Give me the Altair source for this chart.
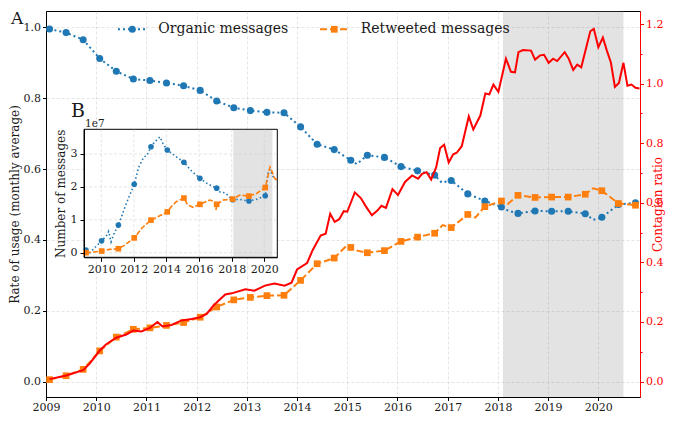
import altair as alt
import pandas as pd

FONT = "DejaVu Serif"
BLUE = "#1f77b4"
ORANGE = "#ff7f0e"
RED = "#ff0000"
TXT = "#1a1a1a"

# ---------------- main panel (A) ----------------
mark_years = [2009.07, 2009.40, 2009.74, 2010.07, 2010.40, 2010.74, 2011.07, 2011.40, 2011.74,
              2012.07, 2012.40, 2012.74, 2013.07, 2013.40, 2013.74, 2014.07, 2014.40, 2014.74,
              2015.07, 2015.40, 2015.74, 2016.07, 2016.40, 2016.74, 2017.07, 2017.40, 2017.74,
              2018.07, 2018.40, 2018.74, 2019.07, 2019.40, 2019.74, 2020.07, 2020.40, 2020.74]
organic_vals = [0.995, 0.985, 0.965, 0.912, 0.876, 0.854, 0.850, 0.843, 0.835,
                0.822, 0.792, 0.773, 0.765, 0.760, 0.759, 0.719, 0.670, 0.655,
                0.625, 0.639, 0.633, 0.607, 0.595, 0.583, 0.568, 0.530, 0.510,
                0.493, 0.475, 0.482, 0.481, 0.481, 0.474, 0.464, 0.500, 0.505]
retweet_vals = [0.006, 0.017, 0.035, 0.087, 0.126, 0.148, 0.152, 0.159, 0.167,
                0.182, 0.211, 0.231, 0.238, 0.243, 0.244, 0.286, 0.333, 0.349,
                0.379, 0.364, 0.370, 0.396, 0.408, 0.419, 0.435, 0.472, 0.494,
                0.510, 0.526, 0.520, 0.521, 0.521, 0.529, 0.539, 0.503, 0.498]
organic_extra_years = [2015.19, 2016.88, 2018.20, 2019.90]
organic_extra_vals = [0.614, 0.562, 0.483, 0.457]
retweet_extra_years = [2015.00, 2015.20, 2016.90, 2017.55, 2018.20, 2019.90]
retweet_extra_vals = [0.386, 0.370, 0.442, 0.463, 0.502, 0.546]

contagion_years = [2009.07, 2009.40, 2009.74, 2009.87, 2010.07, 2010.20, 2010.40, 2010.60, 2010.74, 2010.90,
                   2011.07, 2011.22, 2011.32, 2011.50, 2011.70, 2011.90, 2012.07, 2012.20, 2012.34, 2012.57,
                   2012.70, 2012.97, 2013.15, 2013.36, 2013.55, 2013.75, 2013.89, 2014.00, 2014.20, 2014.31,
                   2014.47, 2014.57, 2014.66, 2014.75, 2014.84, 2014.93, 2015.00, 2015.15, 2015.27, 2015.37,
                   2015.49, 2015.60, 2015.68, 2015.77, 2015.90, 2016.01, 2016.15, 2016.29, 2016.41, 2016.49,
                   2016.58, 2016.67, 2016.77, 2016.85, 2016.93, 2017.02, 2017.11, 2017.18, 2017.28, 2017.42,
                   2017.51, 2017.65, 2017.75, 2017.83, 2017.91, 2018.01, 2018.16, 2018.26, 2018.34, 2018.41,
                   2018.50, 2018.66, 2018.74, 2018.84, 2018.92, 2019.01, 2019.10, 2019.18, 2019.33, 2019.41,
                   2019.50, 2019.58, 2019.66, 2019.84, 2019.91, 2020.00, 2020.09, 2020.17, 2020.25, 2020.33,
                   2020.41, 2020.50, 2020.58, 2020.66, 2020.74, 2020.82]
contagion_vals = [0.008, 0.020, 0.038, 0.060, 0.104, 0.125, 0.147, 0.158, 0.171, 0.168,
                  0.180, 0.200, 0.185, 0.190, 0.205, 0.210, 0.216, 0.227, 0.256, 0.292,
                  0.296, 0.310, 0.305, 0.322, 0.329, 0.322, 0.332, 0.376, 0.398, 0.441,
                  0.490, 0.496, 0.563, 0.536, 0.545, 0.572, 0.570, 0.635, 0.616, 0.588,
                  0.558, 0.574, 0.590, 0.583, 0.646, 0.626, 0.670, 0.692, 0.681, 0.697,
                  0.703, 0.678, 0.719, 0.784, 0.795, 0.735, 0.763, 0.768, 0.790, 0.890,
                  0.846, 0.893, 0.967, 0.964, 0.997, 0.973, 1.084, 1.040, 1.038, 1.106,
                  1.113, 1.111, 1.081, 1.095, 1.097, 1.070, 1.084, 1.076, 1.106, 1.084,
                  1.046, 1.064, 1.055, 1.176, 1.184, 1.122, 1.155, 1.111, 1.071, 0.989,
                  1.002, 1.070, 0.993, 0.997, 0.986, 0.984]

# ---------------- inset panel (B), units of 1e7 ----------------
inset_mark_years = [2009.06, 2010.02, 2011.05, 2012.02, 2013.05, 2014.05,
                    2015.07, 2016.05, 2017.08, 2018.06, 2019.06, 2020.06]
inset_organic_mark = [0.08, 0.36, 0.84, 2.08, 3.22, 3.12, 2.75, 2.26, 1.96, 1.61, 1.57, 1.73]
inset_retweet_mark = [0.00, 0.05, 0.12, 0.45, 0.99, 1.24, 1.66, 1.47, 1.47, 1.63, 1.72, 1.98]
inset_organic_extra_years = [2009.30, 2009.60, 2010.30, 2010.45, 2010.60, 2010.80, 2011.50, 2012.30,
                             2012.60, 2012.80, 2013.30, 2013.60, 2013.80, 2014.50, 2015.50, 2016.50,
                             2017.30, 2017.60, 2018.50, 2019.50, 2020.25, 2020.35, 2020.57, 2020.80]
inset_organic_extra = [0.00, 0.15, 0.50, 0.65, 0.33, 0.60, 1.45, 2.60,
                       2.90, 2.95, 3.38, 3.52, 3.30, 2.95, 2.50, 2.10,
                       1.84, 1.82, 1.62, 1.62, 2.50, 2.52, 2.28, 2.20]
inset_retweet_extra_years = [2009.50, 2010.50, 2011.50, 2012.50, 2013.50, 2014.30, 2014.60, 2015.30,
                             2015.64, 2016.66, 2016.95, 2017.04, 2017.48, 2018.50, 2019.53, 2020.35,
                             2020.45, 2020.63, 2020.80]
inset_retweet_extra = [0.02, 0.10, 0.25, 0.75, 1.10, 1.40, 1.55, 1.45,
                       1.38, 1.60, 1.55, 1.30, 1.60, 1.75, 1.80, 2.60,
                       2.50, 2.26, 2.20]

shade_period = [2018.1, 2020.5]
main_year_ticks = [2009 + 0.5 * i for i in range(24)]
left_ticks = [round(0.1 * i, 1) for i in range(11)]
right_ticks = [round(0.1 * i, 1) for i in range(13)]
inset_x_ticks = [2010, 2012, 2014, 2016, 2018, 2020]
inset_y_ticks = [0, 1, 2, 3]

# ---------------- layout ----------------
PAD = {"left": 38, "top": 3, "right": 37, "bottom": 18}
W, H = 594, 386
X_DOMAIN = [2009.0, 2020.83]
YL_DOMAIN = [-0.043, 1.046]
YR_DOMAIN = [-0.052, 1.244]
IX_DOMAIN = [2008.94, 2020.8]
IY_DOMAIN = [-0.14, 3.75]
IX_RANGE = [38, 231.3]
IY_RANGE = [246.3, 118.3]


def line_df(y1, v1, y2, v2):
    d = pd.DataFrame({"year": list(y1) + list(y2), "value": list(v1) + list(v2)})
    return d.sort_values("year").reset_index(drop=True)


org_df = line_df(mark_years, organic_vals, organic_extra_years, organic_extra_vals)
rt_df = line_df(mark_years, retweet_vals, retweet_extra_years, retweet_extra_vals)
org_m = pd.DataFrame({"year": mark_years, "value": organic_vals})
rt_m = pd.DataFrame({"year": mark_years, "value": retweet_vals})
red_df = pd.DataFrame({"year": contagion_years, "value": contagion_vals})

iorg_df = line_df(inset_mark_years, inset_organic_mark, inset_organic_extra_years, inset_organic_extra)
irt_df = line_df(inset_mark_years, inset_retweet_mark, inset_retweet_extra_years, inset_retweet_extra)
iorg_m = pd.DataFrame({"year": inset_mark_years, "value": inset_organic_mark})
irt_m = pd.DataFrame({"year": inset_mark_years, "value": inset_retweet_mark})

xs = alt.Scale(domain=X_DOMAIN, nice=False, zero=False)
yls = alt.Scale(domain=YL_DOMAIN, nice=False, zero=False)
yrs = alt.Scale(domain=YR_DOMAIN, nice=False, zero=False)
xis = alt.Scale(domain=IX_DOMAIN, range=IX_RANGE, nice=False, zero=False)
yis = alt.Scale(domain=IY_DOMAIN, range=IY_RANGE, nice=False, zero=False)

GRID = dict(grid=True, gridColor="#c4c4c4", gridDash=[3, 2], gridWidth=0.8, gridOpacity=0.55)
MAJOR02 = "abs(datum.value * 5 - round(datum.value * 5)) < 0.001"

x_axis = alt.Axis(
    values=main_year_ticks, orient="bottom", title=None, labelOverlap=False, labelFlush=False,
    labelExpr="datum.value % 1 == 0 ? format(datum.value, 'd') : ''",
    tickSize={"condition": {"test": "datum.value % 1 == 0", "value": 3.5}, "value": 2},
    domainColor="black", tickColor="black", labelColor=TXT, labelFontSize=11,
    labelPadding=1, **GRID)
yl_axis = alt.Axis(
    values=left_ticks, orient="left", title="Rate of usage (monthly average)",
    labelOverlap=False, labelFlush=False,
    labelExpr=MAJOR02 + " ? format(datum.value, '.1f') : ''",
    tickSize={"condition": {"test": MAJOR02, "value": 3.5}, "value": 2},
    domainColor="black", tickColor="black", labelColor=TXT, labelFontSize=11,
    titleFontSize=12, titleFontWeight="normal", titleColor=TXT, titlePadding=2, **GRID)
yr_axis = alt.Axis(
    values=right_ticks, orient="right", title="Contagion ratio", labelOverlap=False,
    labelFlush=False, grid=False,
    labelExpr=MAJOR02 + " ? format(datum.value, '.1f') : ''",
    tickSize={"condition": {"test": MAJOR02, "value": 3.5}, "value": 2},
    domainColor=RED, tickColor=RED, labelColor=RED, labelFontSize=11, labelPadding=2,
    titleFontSize=12, titleFontWeight="normal", titleColor=RED, titlePadding=2,
    titleAngle=270)

shade = alt.Chart(pd.DataFrame({"x0": [shade_period[0]], "x1": [shade_period[1]]})).mark_rect(
    color="#808080", opacity=0.22).encode(x=alt.X("x0:Q", scale=xs, axis=x_axis), x2="x1:Q")
org_line = alt.Chart(org_df).mark_line(color=BLUE, strokeDash=[2, 3], strokeWidth=2).encode(
    x=alt.X("year:Q", scale=xs, axis=x_axis), y=alt.Y("value:Q", scale=yls, axis=yl_axis))
org_pts = alt.Chart(org_m).mark_point(shape="circle", filled=True, size=50, color=BLUE, opacity=1).encode(
    x=alt.X("year:Q", scale=xs), y=alt.Y("value:Q", scale=yls))
rt_line = alt.Chart(rt_df).mark_line(color=ORANGE, strokeDash=[7, 3], strokeWidth=2).encode(
    x=alt.X("year:Q", scale=xs), y=alt.Y("value:Q", scale=yls))
rt_pts = alt.Chart(rt_m).mark_point(shape="square", filled=True, size=45, color=ORANGE, opacity=1).encode(
    x=alt.X("year:Q", scale=xs), y=alt.Y("value:Q", scale=yls))
main = alt.layer(shade, org_line, org_pts, rt_line, rt_pts)

red = alt.Chart(red_df).mark_line(color=RED, strokeWidth=2).encode(
    x=alt.X("year:Q", scale=xs, axis=None), y=alt.Y("value:Q", scale=yrs, axis=yr_axis))

# ---------------- inset ----------------
ix_axis = alt.Axis(values=inset_x_ticks, format="d", orient="bottom", title=None, grid=False,
                   offset=-(H - IY_RANGE[0]), tickSize=4, labelFontSize=11, labelColor=TXT,
                   domainColor="black", tickColor="black", labelPadding=2, labelFlush=False,
                   zindex=1)
iy_axis = alt.Axis(values=inset_y_ticks, format="d", orient="left", title="Number of messages",
                   grid=False, offset=-IX_RANGE[0], tickSize=4, labelFontSize=11, labelColor=TXT,
                   domainColor="black", tickColor="black", labelPadding=3, titleFontSize=12,
                   titleFontWeight="normal", titleColor=TXT, titlePadding=3, labelFlush=False,
                   zindex=1)

box_df = pd.DataFrame({"x0": [IX_DOMAIN[0]], "x1": [IX_DOMAIN[1]], "y0": [IY_DOMAIN[0]], "y1": [IY_DOMAIN[1]]})
ibox = alt.Chart(box_df).mark_rect(fill="white", stroke="black", strokeWidth=1).encode(
    x=alt.X("x0:Q", scale=xis, axis=ix_axis), x2="x1:Q",
    y=alt.Y("y0:Q", scale=yis, axis=iy_axis), y2="y1:Q")
ishade = alt.Chart(pd.DataFrame({"x0": [shade_period[0]], "x1": [shade_period[1]],
                                 "y0": [IY_DOMAIN[0]], "y1": [IY_DOMAIN[1]]})).mark_rect(
    color="#808080", opacity=0.22).encode(x=alt.X("x0:Q", scale=xis), x2="x1:Q",
                                          y=alt.Y("y0:Q", scale=yis), y2="y1:Q")
igrid_x = alt.Chart(pd.DataFrame({"t": inset_x_ticks, "y0": IY_DOMAIN[0], "y1": IY_DOMAIN[1]})).mark_rule(
    color="#c4c4c4", strokeDash=[3, 2], strokeWidth=0.8, opacity=0.55).encode(
    x=alt.X("t:Q", scale=xis), y=alt.Y("y0:Q", scale=yis), y2="y1:Q")
igrid_y = alt.Chart(pd.DataFrame({"t": inset_y_ticks, "x0": IX_DOMAIN[0], "x1": IX_DOMAIN[1]})).mark_rule(
    color="#c4c4c4", strokeDash=[3, 2], strokeWidth=0.8, opacity=0.55).encode(
    y=alt.Y("t:Q", scale=yis), x=alt.X("x0:Q", scale=xis), x2="x1:Q")
iorg_line = alt.Chart(iorg_df).mark_line(color=BLUE, strokeDash=[1.5, 2.5], strokeWidth=1.6).encode(
    x=alt.X("year:Q", scale=xis), y=alt.Y("value:Q", scale=yis))
iorg_pts = alt.Chart(iorg_m).mark_point(shape="circle", filled=True, size=32, color=BLUE, opacity=1).encode(
    x=alt.X("year:Q", scale=xis), y=alt.Y("value:Q", scale=yis))
irt_line = alt.Chart(irt_df).mark_line(color=ORANGE, strokeDash=[5, 2], strokeWidth=1.6).encode(
    x=alt.X("year:Q", scale=xis), y=alt.Y("value:Q", scale=yis))
irt_pts = alt.Chart(irt_m).mark_point(shape="square", filled=True, size=32, color=ORANGE, opacity=1).encode(
    x=alt.X("year:Q", scale=xis), y=alt.Y("value:Q", scale=yis))
inset = alt.layer(ibox, ishade, igrid_x, igrid_y, iorg_line, iorg_pts, irt_line, irt_pts)

# ---------------- annotations & legend ----------------
one = pd.DataFrame({"k": [0]})


def label(txt, x, y, size, align="left", baseline="alphabetic"):
    return alt.Chart(one).mark_text(text=txt, fontSize=size, align=align, baseline=baseline,
                                    color=TXT, font=FONT).encode(x=alt.value(x), y=alt.value(y))


ann = alt.layer(
    label("A", -35, 0, 17, baseline="top"),
    label("B", 25, 105.7, 19),
    label("1e7", 39, 116, 10.5),
    label("Organic messages", 112.3, 18.3, 14, baseline="middle"),
    label("Retweeted messages", 314.7, 18.3, 14, baseline="middle"),
    alt.Chart(one).mark_rule(color=BLUE, strokeDash=[2, 3], strokeWidth=2).encode(
        x=alt.value(72), x2=alt.value(100), y=alt.value(18.3)),
    alt.Chart(one).mark_point(shape="circle", filled=True, size=50, color=BLUE, opacity=1).encode(
        x=alt.value(86.3), y=alt.value(18.3)),
    alt.Chart(one).mark_rule(color=ORANGE, strokeDash=[7, 3], strokeWidth=2).encode(
        x=alt.value(274), x2=alt.value(301), y=alt.value(18.3)),
    alt.Chart(one).mark_point(shape="square", filled=True, size=45, color=ORANGE, opacity=1).encode(
        x=alt.value(288.3), y=alt.value(18.3)),
)

chart = alt.layer(main, red, inset, ann).resolve_scale(
    x="independent", y="independent"
).properties(
    width=W, height=H,
    padding=PAD,
    autosize=alt.AutoSizeParams(type="none"),
).configure(font=FONT).configure_view(stroke="black", strokeWidth=1)

chart.save("out.html", embed_options={"renderer": "svg", "actions": False})
